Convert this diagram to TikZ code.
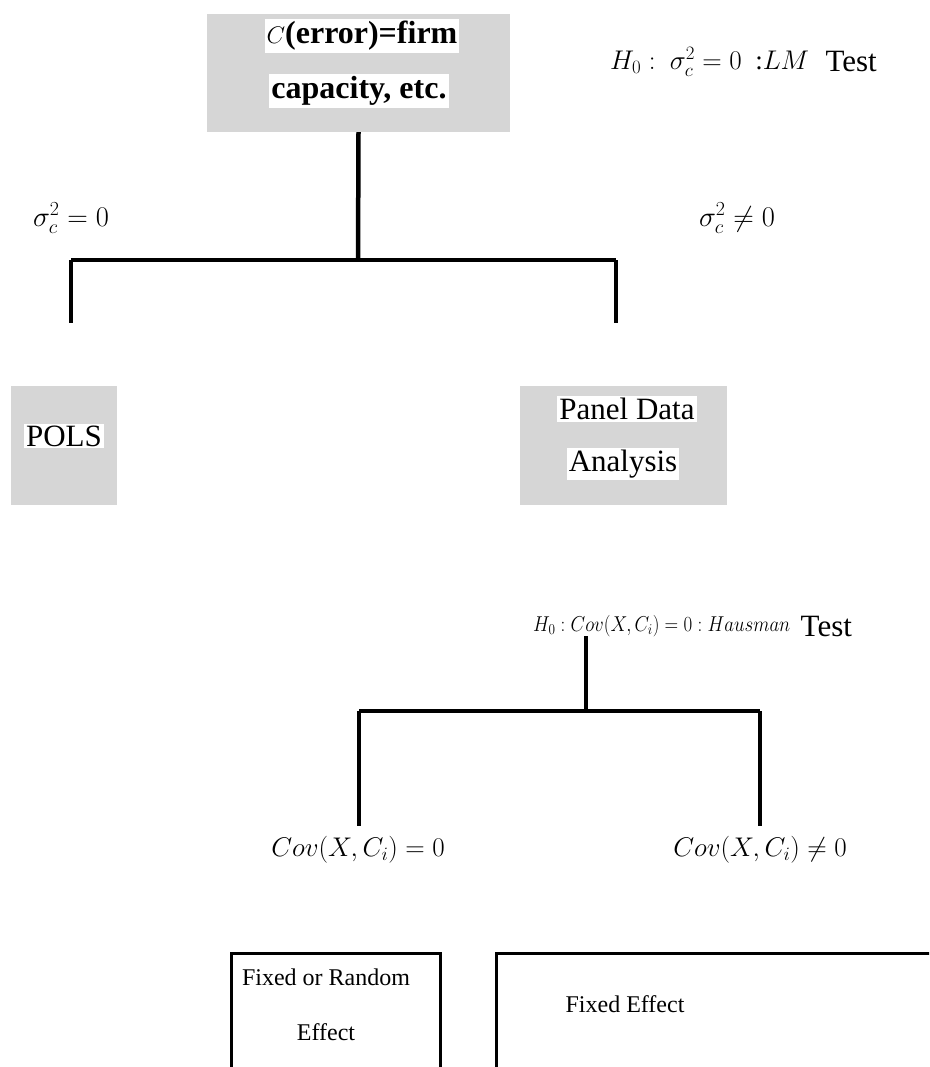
\RequirePackage{fix-cm}
\documentclass[tikz,border=0pt]{standalone}
\usepackage{fontspec}
\setmainfont{Liberation Serif}
\usepackage{amsmath}
\usetikzlibrary{positioning}
\definecolor{boxgrey}{RGB}{214,214,214}

\begin{document}
\begin{tikzpicture}[
    x=1pt, y=-1pt,
    greybox/.style={fill=boxgrey, inner sep=0pt},
    whitetext/.style={fill=white, inner sep=2pt, font=\fontsize{31}{36}\selectfont},
    boldtext/.style={whitetext, font=\fontsize{32}{38}\selectfont\bfseries},
    cond/.style={inner sep=0pt, font=\fontsize{28.5}{33}\selectfont},
    testword/.style={inner sep=0pt, font=\fontsize{31}{36}\selectfont},
    result/.style={draw, line width=3pt, inner sep=0pt},
    resulttext/.style={inner sep=0pt, font=\fontsize{24}{29}\selectfont},
    branch/.style={line width=4.5pt}
]
\useasboundingbox (0,0) rectangle (929,1067);
\clip (0,0) rectangle (929,1067);

% first test
\node[greybox, minimum width=303pt, minimum height=118pt] (errbox) at (358.5,73) {};
\node[boldtext] (errline1) at (362,36) {{\fontsize{24}{28}\selectfont$C$}(error)=firm};
\node[boldtext] (errline2) at (359,91) {capacity, etc.};
\node[cond, anchor=west, font=\fontsize{27}{31}\selectfont] (lmtest) at (610,62) {$H_0:\ \sigma_c^2=0$\ \ :$LM$};
\node[testword, right=16pt of lmtest] (lmword) {Test};

\node[cond] (sigzero) at (71,218) {$\sigma_c^2=0$};
\node[cond] (signonzero) at (737,218) {$\sigma_c^2\neq 0$};

\coordinate (split1) at (358,260);
\coordinate (left1) at (71,260);
\coordinate (right1) at (616,260);
\coordinate (leftend1) at (71,323);
\coordinate (rightend1) at (616,323);

\draw[branch] (errbox.south) -- (split1);
\draw[branch] (left1) -- (right1);
\draw[branch] (left1) -- (leftend1);
\draw[branch] (right1) -- (rightend1);

% POLS / panel data
\node[greybox, minimum width=106pt, minimum height=119pt] (polsbox) at (64,445.5) {};
\node[whitetext] (pols) at (64,436) {POLS};
\node[greybox, minimum width=207pt, minimum height=119pt] (panelbox) at (623.5,445.5) {};
\node[whitetext] (panel1) at (627,409) {Panel Data};
\node[whitetext] (panel2) at (623,464) {Analysis};

% second test
\node[cond, anchor=west, font=\fontsize{21.5}{25}\selectfont, xscale=0.88, transform shape] (hausman) at (533,626) {$H_0:Cov(X,C_i)=0:Hausman$};
\node[testword, right=10pt of hausman] (hausword) {Test};

\coordinate (top2) at (586,636);
\coordinate (split2) at (586,711);
\coordinate (left2) at (359,711);
\coordinate (right2) at (760,711);
\coordinate (leftend2) at (359,826);
\coordinate (rightend2) at (760,826);

\draw[branch] (top2) -- (split2);
\draw[branch] (left2) -- (right2);
\draw[branch] (left2) -- (leftend2);
\draw[branch] (right2) -- (rightend2);

\node[cond, font=\fontsize{27}{31}\selectfont] (covzero) at (358,850) {$Cov(X,C_i)=0$};
\node[cond, font=\fontsize{27}{31}\selectfont] (covnonzero) at (760,850) {$Cov(X,C_i)\neq 0$};

% results
\node[result, minimum width=209pt, minimum height=160pt, anchor=north west] (fixrandbox) at (230,952) {};
\node[resulttext] (fixrand1) at (326,977) {Fixed or Random};
\node[resulttext] (fixrand2) at (326,1032) {Effect};
\node[result, minimum width=460pt, minimum height=160pt, anchor=north west] (fixbox) at (495,952) {};
\node[resulttext] (fixed) at (625,1004) {Fixed Effect};

\end{tikzpicture}
\end{document}
